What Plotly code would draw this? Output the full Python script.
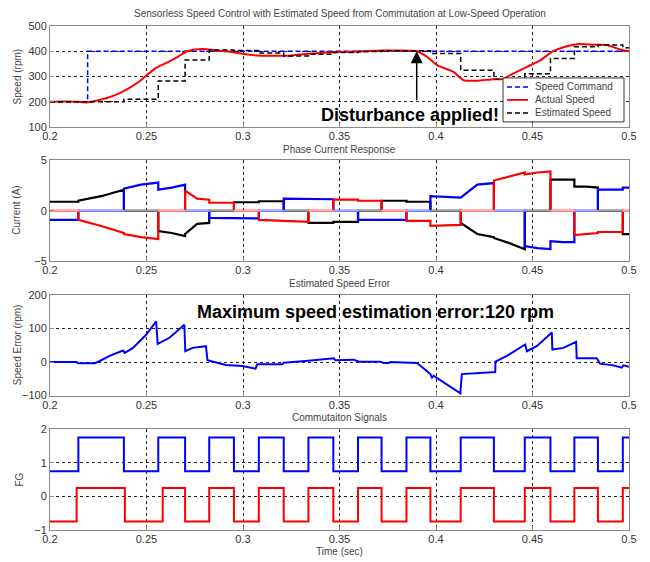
import plotly.graph_objects as go
from plotly.subplots import make_subplots

# ---------------- data ----------------
# Panel 1: speed (rpm)
cmd_t = [0.2, 0.2195, 0.2195, 0.5]
cmd_v = [200, 200, 400, 400]

act_t = [0.2, 0.2137, 0.2188, 0.2256, 0.2324, 0.2392, 0.2461, 0.2495, 0.2546, 0.2614,
         0.2666, 0.2708, 0.2751, 0.2794, 0.2853, 0.2939, 0.299, 0.3075, 0.316, 0.3229,
         0.328, 0.3433, 0.3505, 0.361, 0.3712, 0.3798, 0.390, 0.3953, 0.4005, 0.4091,
         0.4143, 0.4212, 0.4298, 0.4341, 0.4402, 0.4471, 0.454, 0.4609, 0.4678, 0.473,
         0.4816, 0.4884, 0.4953, 0.5]
act_v = [200, 200, 197, 207, 222, 246, 279, 301, 332, 358,
         380, 399, 407, 409, 404, 397, 391, 383, 382, 382,
         386, 395, 397, 399, 403, 403, 400, 378, 345, 318,
         285, 283, 289, 289, 312, 338, 364, 401, 420, 428,
         426, 425, 407, 400]

est_t = [0.2, 0.2383, 0.2561, 0.27, 0.2825, 0.2953, 0.3082, 0.3211, 0.3339, 0.3468, 0.3596,
         0.3718, 0.3847, 0.3971, 0.4128, 0.43, 0.446, 0.4593, 0.4717, 0.4839, 0.4968, 0.5]
est_v = [200, 210, 282, 365, 405, 403, 393, 381, 388, 395, 399,
         402, 402, 391, 325, 289, 311, 371, 418, 425, 414, 414]

legend_names = ["Speed Command", "Actual Speed", "Estimated Speed"]

# Panel 2: phase currents (A); commutation instants and (start, mid, end) per interval
comm_t = [0.2, 0.2147, 0.2383, 0.2561, 0.27, 0.2825, 0.2953, 0.3082, 0.3211, 0.3339, 0.3468,
          0.3596, 0.3718, 0.3847, 0.3971, 0.4128, 0.43, 0.446, 0.4593, 0.4717, 0.4839, 0.4968, 0.5]
ia_seg = [(0.9, 0.9, 0.9), (1.0, 1.45, 2.1), (0, 0, 0), (-2.0, -2.2, -2.5), (-2.3, -1.3, -1.2),
          (0, 0, 0), (0.85, 0.85, 0.85), (0.95, 0.95, 0.95), (0, 0, 0), (-1.2, -1.2, -1.2),
          (-1.1, -1.1, -1.1), (0, 0, 0), (1.0, 1.0, 1.0), (0.9, 0.9, 0.9), (0, 0, 0),
          (-1.2, -2.3, -2.6), (-2.7, -3.2, -3.8), (0, 0, 0), (3.1, 3.1, 3.1), (2.4, 2.4, 2.3),
          (0, 0, 0), (-2.3, -2.3, -2.3)]
ib_seg = [(-0.9, -0.9, -0.9), (0, 0, 0), (2.2, 2.6, 2.8), (2.1, 2.3, 2.6), (0, 0, 0),
          (-0.7, -0.7, -0.7), (-0.75, -0.75, -0.75), (0, 0, 0), (1.2, 1.2, 1.2), (1.15, 1.15, 1.15),
          (0, 0, 0), (-0.9, -0.9, -0.9), (-0.9, -0.9, -0.9), (0, 0, 0), (1.45, 1.35, 1.3),
          (1.3, 2.6, 2.75), (0, 0, 0), (-3.5, -3.7, -3.8), (-3.0, -3.1, -3.1), (0, 0, 0),
          (2.1, 2.1, 2.1), (2.3, 2.3, 2.3)]
ic_seg = [(0, 0, 0), (-0.9, -1.5, -2.2), (-2.3, -2.6, -2.8), (0, 0, 0), (2.0, 1.2, 1.1),
          (0.8, 0.8, 0.8), (0, 0, 0), (-0.9, -0.95, -1.0), (-1.0, -1.1, -1.1), (0, 0, 0),
          (1.1, 1.1, 1.1), (1.0, 1.0, 1.0), (0, 0, 0), (-1.0, -1.0, -1.0), (-1.5, -1.45, -1.4),
          (0, 0, 0), (3.0, 3.4, 3.8), (3.6, 3.8, 3.9), (0, 0, 0), (-2.4, -2.3, -2.2),
          (-2.1, -2.1, -2.1), (0, 0, 0)]

# Panel 3: speed estimation error (rpm)
err_t = [0.2, 0.2137, 0.2146, 0.2232, 0.2258, 0.2309, 0.2378, 0.2387, 0.243, 0.2498,
         0.255, 0.2558, 0.2619, 0.2696, 0.2701, 0.2739, 0.2808, 0.2816, 0.2911, 0.2997,
         0.3065, 0.3074, 0.3203, 0.3211, 0.3323, 0.3402, 0.3471, 0.3479, 0.3574, 0.36,
         0.3712, 0.3729, 0.3755, 0.3764, 0.3902, 0.3971, 0.3979, 0.3988, 0.4126, 0.4134,
         0.4247, 0.4307, 0.4308, 0.4367, 0.4462, 0.4471, 0.4522, 0.46, 0.4603, 0.466,
         0.4726, 0.4729, 0.4833, 0.485, 0.4919, 0.4962, 0.4971, 0.5]
err_v = [0, 0, -4, -4, 3, 18, 34, 27, 42, 81,
         121, 54, 72, 111, 32, 42, 47, 5, -9, -12,
         -20, -7, -7, -2, 3, 8, 11, 5, 7, 1,
         1, -3, -3, 0, -3, -36, -46, -41, -93, -36,
         -31, -30, 1, 18, 52, 32, 47, 88, 37, 42,
         60, 11, 11, -5, -10, -17, -10, -14]

# Panel 4: commutation (FG) signals
fg1_edges = [0.2147, 0.2383, 0.2561, 0.27, 0.2825, 0.2953, 0.3082, 0.3211, 0.3339, 0.3468, 0.3596,
             0.3718, 0.3847, 0.3971, 0.4128, 0.43, 0.446, 0.4593, 0.4717, 0.4839, 0.4968]
fg2_edges = [0.2138, 0.2388, 0.2584, 0.27, 0.2825, 0.2953, 0.3082, 0.3211, 0.3339, 0.3468, 0.3596,
             0.3718, 0.3847, 0.3971, 0.4128, 0.43, 0.446, 0.4593, 0.4717, 0.4839, 0.4968]
fg1_levels = [0.75, 1.75]
fg2_levels = [-0.75, 0.25]

x_ticks = [0.2, 0.25, 0.3, 0.35, 0.4, 0.45, 0.5]
x_ticktext = ["0.2", "0.25", "0.3", "0.35", "0.4", "0.45", "0.5"]

# ---------------- layout geometry (screen pixels; page body has an 8px offset) ----------------
W, H = 650, 562
OFF = 8
PL, PR, PT, PB = 50, 629, 26, 530.5          # plot area in screen pixels
ML, MT = PL - OFF, PT - OFF
MR, MB = W - (PR - OFF), H - (PB - OFF)
PH = PB - PT
panel_px = [(26, 127), (160.5, 261.5), (295, 396), (429.5, 530.5)]


def py(sy):
    return 1 - (sy - PT) / PH


def pxx(sx):
    return (sx - PL) / (PR - PL)


fig = make_subplots(rows=4, cols=1)

BLUE, RED, BLACK = "#0000ff", "#ff0000", "#000000"
DASH = "5px,3px"

# Panel 1
fig.add_trace(go.Scatter(x=cmd_t, y=cmd_v, mode="lines", name=legend_names[0], showlegend=False,
                         line=dict(color=BLUE, width=1.5, dash=DASH)), row=1, col=1)
fig.add_trace(go.Scatter(x=act_t, y=act_v, mode="lines", name=legend_names[1], showlegend=False,
                         line=dict(color=RED, width=2, shape="spline", smoothing=0.6)), row=1, col=1)
fig.add_trace(go.Scatter(x=est_t, y=est_v, mode="lines", name=legend_names[2], showlegend=False,
                         line=dict(color=BLACK, width=1.5, dash=DASH, shape="hv")), row=1, col=1)


# Panel 2
def phase_xy(segs):
    xs, ys, zx, zy = [], [], [], []
    for k, (s, m, e) in enumerate(segs):
        t0, t1 = comm_t[k], comm_t[k + 1]
        xs += [t0, (t0 + t1) / 2, t1]
        ys += [s, m, e]
        if s == 0 and m == 0 and e == 0:
            zx += [t0, t1, None]
            zy += [0, 0, None]
    return xs, ys, zx, zy


phases = [(ia_seg, BLACK, "#9a9a9a"), (ib_seg, BLUE, "#a8a8ff"), (ic_seg, RED, "#ffaaaa")]
overlays = []
for segs, col, pale in phases:
    xs, ys, zx, zy = phase_xy(segs)
    fig.add_trace(go.Scatter(x=xs, y=ys, mode="lines", showlegend=False,
                             line=dict(color=col, width=2.2)), row=2, col=1)
    overlays.append((zx, zy, pale))
for zx, zy, pale in overlays:
    fig.add_trace(go.Scatter(x=zx, y=zy, mode="lines", showlegend=False,
                             line=dict(color=pale, width=2)), row=2, col=1)

# Panel 3
fig.add_trace(go.Scatter(x=err_t, y=err_v, mode="lines", showlegend=False,
                         line=dict(color=BLUE, width=2)), row=3, col=1)


# Panel 4
def fg_xy(edges, levels):
    xs = [0.2] + list(edges) + [0.5]
    ys = [levels[i % 2] for i in range(len(edges) + 1)]
    ys.append(ys[-1])
    return xs, ys


for edges, levels, col in [(fg1_edges, fg1_levels, BLUE), (fg2_edges, fg2_levels, RED)]:
    xs, ys = fg_xy(edges, levels)
    fig.add_trace(go.Scatter(x=xs, y=ys, mode="lines", showlegend=False,
                             line=dict(color=col, width=2, shape="hv")), row=4, col=1)

# Axes
FONT = "Liberation Sans, Arial, sans-serif"
TICKCOL = "#333333"
yranges = [(100, 500, 100), (-5, 5, 5), (-100, 200, 100), (-1, 2, 1)]
for i in range(4):
    r = i + 1
    top, bot = panel_px[i]
    fig.update_xaxes(row=r, col=1, domain=[0, 1], range=[0.2, 0.5], tickvals=x_ticks,
                     ticktext=x_ticktext, showline=True, mirror=True, linecolor="#8a8a8a",
                     linewidth=1, ticks="inside", ticklen=4, tickcolor="#8a8a8a",
                     ticklabelstandoff=-1,
                     showgrid=True, gridcolor="#222222", griddash="dot", gridwidth=1,
                     zeroline=False, tickfont=dict(size=11, color=TICKCOL, family=FONT))
    lo, hi, dt = yranges[i]
    fig.update_yaxes(row=r, col=1, domain=[py(bot), py(top)], range=[lo, hi], dtick=dt,
                     tick0=lo, showline=True, mirror=True, linecolor="#8a8a8a", linewidth=1,
                     ticks="inside", ticklen=4, tickcolor="#8a8a8a", showgrid=True,
                     gridcolor="#222222", griddash="dot", gridwidth=1, zeroline=False,
                     tickfont=dict(size=11, color=TICKCOL, family=FONT))

annotations = []
shapes = []
TITLECOL = "#444444"
annotations.append(dict(text="Sensorless Speed Control with Estimated Speed from Commutation at Low-Speed Operation",
                        x=0.5, y=py(13), xref="paper", yref="paper", showarrow=False,
                        font=dict(size=10, color=TITLECOL, family=FONT), yanchor="middle"))
for txt, ypx in [("Phase Current Response", 150), ("Estimated Speed Error", 284),
                 ("Commutaiton Signals", 418), ("Time (sec)", 552)]:
    annotations.append(dict(text=txt, x=0.5, y=py(ypx), xref="paper", yref="paper",
                            showarrow=False, yanchor="middle",
                            font=dict(size=10, color=TITLECOL, family=FONT)))
for txt, xpx, i in [("Speed (rpm)", 17, 0), ("Current (A)", 17, 1),
                    ("Speed Error (rpm)", 17, 2), ("FG", 20, 3)]:
    top, bot = panel_px[i]
    annotations.append(dict(text=txt, x=pxx(xpx), y=py((top + bot) / 2), xref="paper",
                            yref="paper", showarrow=False, textangle=-90,
                            xanchor="center", yanchor="middle",
                            font=dict(size=10, color=TITLECOL, family=FONT)))
# Disturbance arrow
annotations.append(dict(text="", x=0.39, y=400, xref="x", yref="y", ax=0.39, ay=200,
                        axref="x", ayref="y", showarrow=True, arrowhead=2, arrowsize=1.6,
                        arrowwidth=1.5, arrowcolor="#000000"))
annotations.append(dict(text="<b>Disturbance applied!</b>", x=0.3865, y=147, xref="x", yref="y",
                        showarrow=False, font=dict(size=18, color="#000000", family=FONT)))
annotations.append(dict(text="<b>Maximum speed estimation error:120 rpm</b>", x=0.3684, y=150,
                        xref="x3", yref="y3", showarrow=False,
                        font=dict(size=18, color="#000000", family=FONT)))

# Boxed legend for the speed panel
shapes.append(dict(type="rect", xref="paper", yref="paper", x0=pxx(503), x1=pxx(624),
                   y0=py(122), y1=py(78), fillcolor="white", line=dict(color="#333333", width=1)))
for name, sy, col, dash in [(legend_names[0], 87, BLUE, DASH), (legend_names[1], 100, RED, "solid"),
                            (legend_names[2], 113, BLACK, DASH)]:
    shapes.append(dict(type="line", xref="paper", yref="paper", x0=pxx(507), x1=pxx(528),
                       y0=py(sy), y1=py(sy), line=dict(color=col, width=1.8 if col == RED else 1.5, dash=dash)))
    annotations.append(dict(text=name, x=pxx(533), y=py(sy), xref="paper", yref="paper",
                            xanchor="left", yanchor="middle", showarrow=False,
                            font=dict(size=10, color="#444444", family=FONT)))

fig.update_layout(
    width=W, height=H, margin=dict(l=ML, r=MR, t=MT, b=MB),
    paper_bgcolor="white", plot_bgcolor="white",
    font=dict(family=FONT, color=TICKCOL),
    annotations=annotations, shapes=shapes, showlegend=False,
)

fig.write_html("out.html")
